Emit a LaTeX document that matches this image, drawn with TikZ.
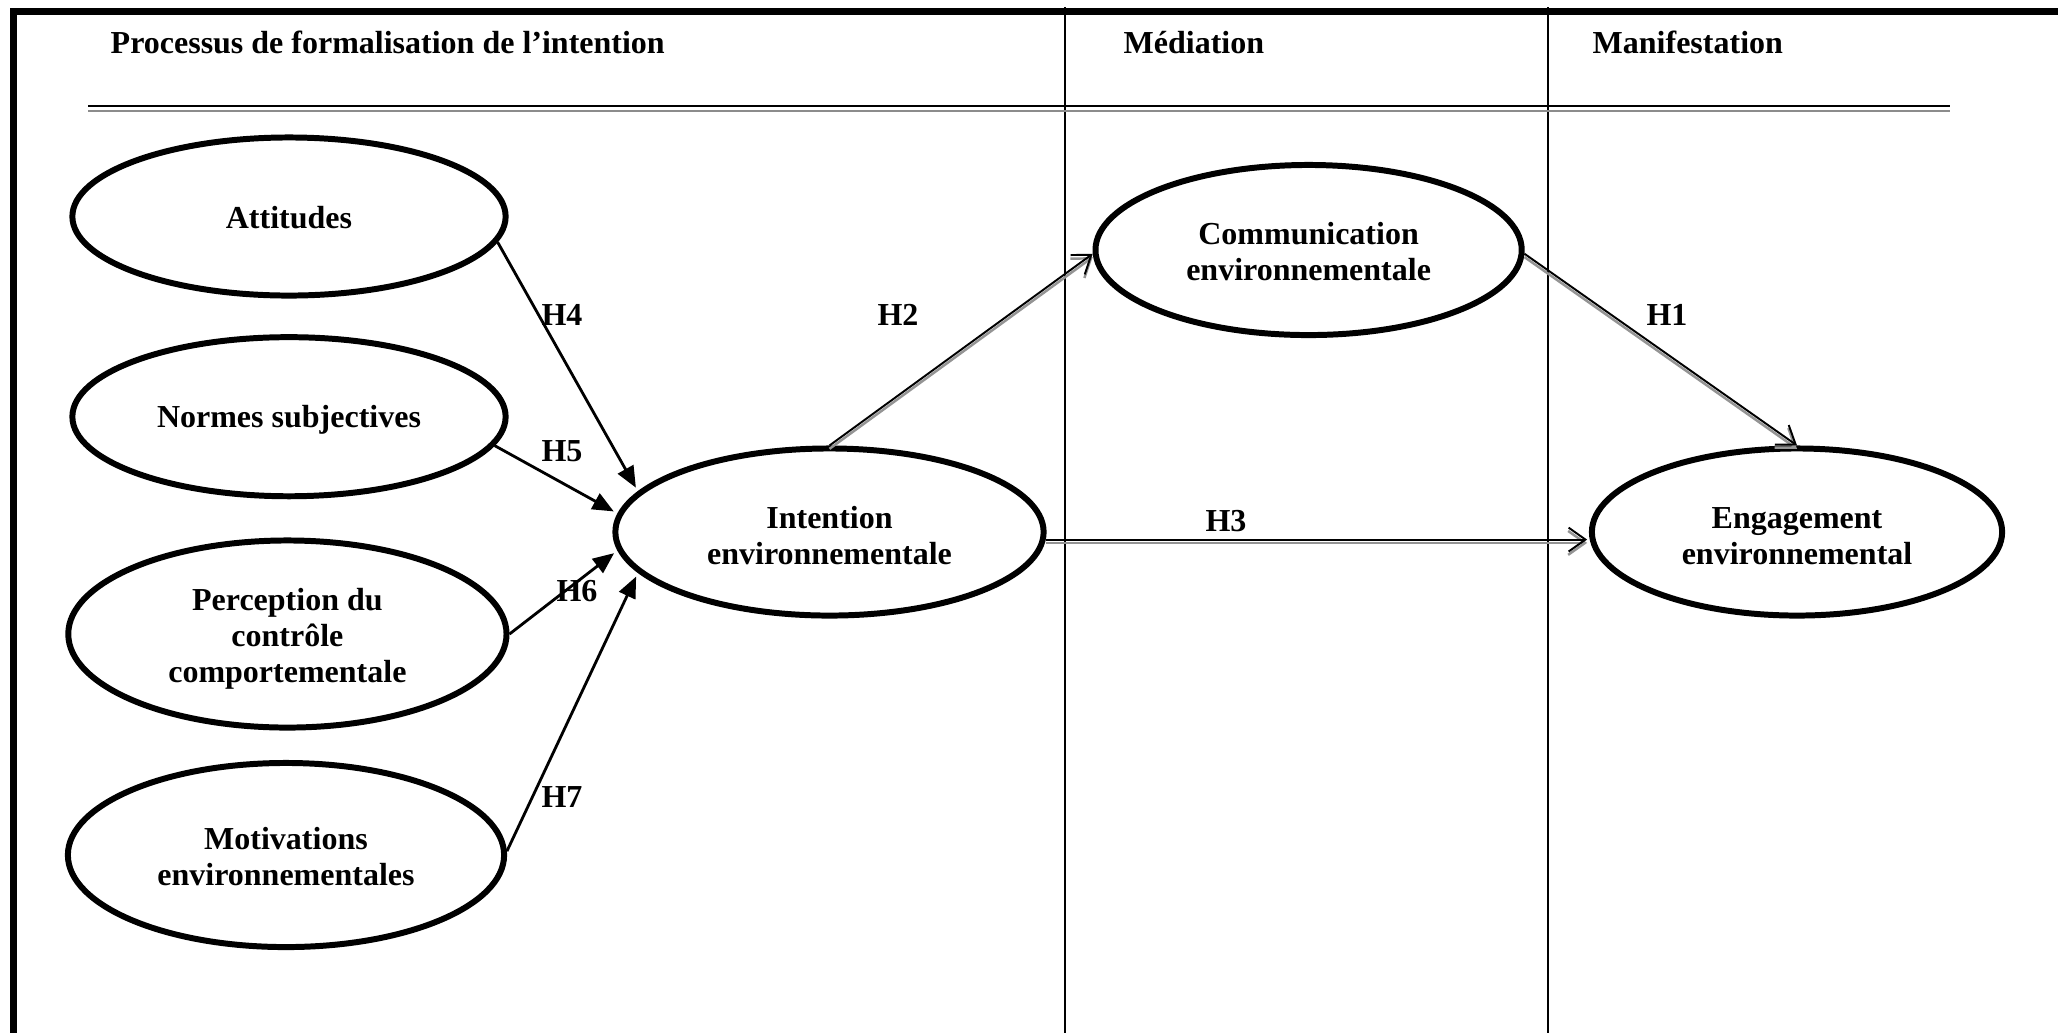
\documentclass[tikz,border=0pt]{standalone}
\usepackage{fontspec}
\setmainfont{Liberation Serif}
\usetikzlibrary{shapes.geometric,arrows.meta}
% invisible strut that lowers the first line of a construct label slightly
\newcommand{\capstrut}[1]{\rule{0pt}{#1}}

\begin{document}
\begin{tikzpicture}[x=0.01cm, y=-0.01cm,
  every node/.style={font=\fontsize{9.1}{10.24}\selectfont\bfseries, inner sep=0pt},
  construct/.style={ellipse, draw, line width=1.7pt, align=center},
  toward/.style={line width=0.8pt, -{Triangle[length=6pt,width=5pt]}, shorten >=1.2pt},
  shadowed/.style={line width=0.55pt, -{Straight Barb[length=4.8pt,width=6.8pt]},
    preaction={draw=black!42, line width=0.7pt, transform canvas={yshift=-0.95pt}}},
]
\useasboundingbox (0,0) rectangle (2058,1032);

% frame, column separators and header rule
\draw[line width=0.07cm, line join=miter] (13.5,1040) -- (13.5,11.5) -- (2070,11.5);
\draw[line width=0.02cm] (1065,7) -- (1065,1040);
\draw[line width=0.02cm] (1548,7) -- (1548,1040);
\draw[line width=0.02cm] (88,106) -- (1950,106);
\draw[line width=0.02cm, black!45] (88,110.7) -- (1950,110.7);

% column headings
\node[anchor=base west] (colA) at (110,53) {Processus de formalisation de l’intention};
\node[anchor=base west] (colB) at (1123,53) {Médiation};
\node[anchor=base west] (colC) at (1592,53) {Manifestation};

% constructs
\node[construct, minimum width=4.33cm, minimum height=1.58cm] (att)  at (289,216.5) {\capstrut{7.2pt}Attitudes};
\node[construct, minimum width=4.33cm, minimum height=1.59cm] (norm) at (289,416.7) {\capstrut{8pt}Normes subjectives};
\node[construct, minimum width=4.38cm, minimum height=1.87cm] (perc) at (287.4,634) {\capstrut{9pt}Perception du\\contrôle\\comportementale};
\node[construct, minimum width=4.36cm, minimum height=1.84cm] (mot)  at (286,855) {\capstrut{7.4pt}Motivations\\environnementales};
\node[construct, minimum width=4.28cm, minimum height=1.67cm] (int)  at (829.5,532) {\capstrut{8.3pt}Intention\\environnementale};
\node[construct, minimum width=4.26cm, minimum height=1.70cm] (comm) at (1308.6,250) {\capstrut{7.4pt}Communication\\environnementale};
\node[construct, minimum width=4.10cm, minimum height=1.67cm] (eng)  at (1797,532) {\capstrut{8.6pt}Engagement\\environnemental};

% antecedents of the intention
\draw[toward] (att.-7.3)  -- (int.168.2);
\draw[toward] (norm.-8.2) -- (int.175);
\draw[toward] (perc.east) -- (int.185.6);
\draw[toward] (mot.1)     -- (int.192.7);

% mediation and manifestation paths
\draw[shadowed] (int.north) -- (comm.181);
\draw[shadowed] (comm.-1.5) -- (eng.north);
\draw[shadowed, shorten >=0.5pt] (int.-2.4) -- (int.-2.4 -| eng.west);

% hypothesis labels
\node (h4) at (562,315) {H4};
\node (h5) at (562,451) {H5};
\node (h6) at (577,591) {H6};
\node (h7) at (562,797) {H7};
\node (h2) at (898,315) {H2};
\node (h3) at (1226,521) {H3};
\node (h1) at (1667,315) {H1};
\end{tikzpicture}
\end{document}
